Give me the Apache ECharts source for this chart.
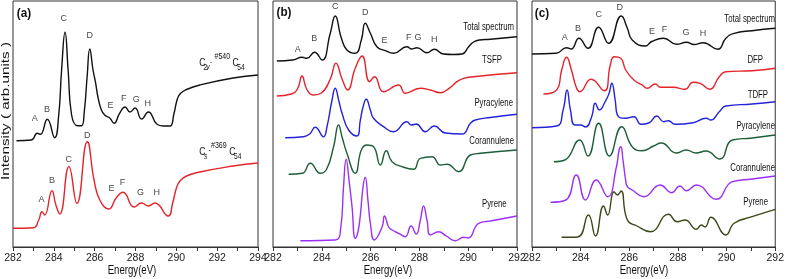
<!DOCTYPE html>
<html>
<head>
<meta charset="utf-8">
<script src="https://cdn.jsdelivr.net/npm/echarts@6/dist/echarts.min.js"></script>
<style>
html, body { margin: 0; padding: 0; background: #fff; }
#chart { width: 787px; height: 279px; }
</style>
</head>
<body>
<div id="chart"></div>
<script>
// energies in eV, intensity in arbitrary units (curves are stacked with offsets)
// panel (a)
var aC2v = [[282.17,106.3],[282.9,107],[283.19,113.7],[283.34,112.7],[283.68,127.7],[284.04,109.3],[284.24,132],[284.38,177],[284.55,214.7],[284.7,177],[284.87,132],[285.17,121.3],[285.36,121.3],[285.49,135],[285.63,170],[285.76,198],[285.92,177],[286.05,163.7],[286.16,150],[286.33,137],[286.49,132],[286.74,129],[286.95,123.7],[287.22,133.7],[287.49,140],[287.73,135],[287.98,139],[288.3,128],[288.63,135],[289.04,123],[289.36,121],[289.69,121],[289.88,133],[290.05,148],[290.2,153.5],[290.5,157.5],[291.15,162],[292.78,169],[294,172]]
var aCs = [[282,18.7],[283.0,19.3],[283.26,27],[283.42,35.3],[283.55,32],[283.91,56.3],[284.1,42],[284.29,33],[284.74,80.3],[285.13,43.7],[285.64,105.3],[285.97,67],[286.25,47],[286.69,38],[287.06,49.3],[287.39,54.7],[287.93,40],[288.3,44],[288.63,41],[288.95,44],[289.6,31],[289.82,44],[290.02,60],[290.2,66.5],[290.5,71],[291.15,75],[292.78,81],[294,84]]
// panel (b)
var bTotal = [[282.16,186],[282.8,187],[283.19,189.7],[283.39,188.7],[283.7,194.7],[284.01,187],[284.35,214],[284.55,231],[284.8,209],[285.03,197],[285.37,193.7],[285.62,207],[285.78,223.7],[285.99,213.7],[286.26,200.3],[286.6,196.3],[286.94,193.7],[287.49,200.3],[287.67,198],[287.9,199.3],[288.31,194.3],[288.61,197.7],[288.98,193],[289.4,192.5],[289.75,193],[290.02,200.3],[290.22,205],[290.45,207],[290.91,207.7],[292,210.3]]
var bTSFP = [[282.16,151],[282.75,153],[283.0,158],[283.19,171],[283.38,158],[283.66,152],[283.98,154],[284.35,168],[284.58,183.7],[284.83,168],[285.06,157],[285.37,178.7],[285.65,191],[285.96,165.3],[286.16,170.3],[286.53,155.3],[287.15,162],[287.42,153.7],[288.04,158.7],[288.45,157],[288.86,154.3],[289.27,159.7],[289.54,165.3],[289.81,168.7],[290.22,170.3],[292,174.3]]
var bPyra = [[282.5,109.3],[283.24,110.3],[283.5,113],[283.73,119.7],[284.07,110.3],[284.21,120],[284.42,147],[284.55,158.7],[284.69,147],[284.83,133.7],[285.1,117],[285.44,111],[285.58,127],[285.69,140],[285.82,147.7],[285.99,137],[286.12,128.7],[286.53,120.3],[286.94,115.3],[287.49,125.3],[287.67,122],[287.87,123],[288.24,115.3],[288.61,121],[289.06,114],[289.75,113],[290.09,123.7],[290.29,127],[290.91,129.5],[292,132.7]]
var bCoran = [[282.64,72.7],[283.2,73.7],[283.53,83.7],[283.94,73.7],[284.2,78],[284.48,100],[284.69,122],[284.83,110],[285.03,93.7],[285.37,73.7],[285.62,97],[285.85,102],[286.12,100.3],[286.4,82],[286.64,96.3],[286.88,85.3],[287.29,80.3],[287.76,77.7],[288.04,88.7],[288.52,90.3],[288.86,82],[289.13,82.7],[289.61,75.3],[290.09,92],[290.5,93.7],[292,97]]
var bPyrene = [[283.12,6.3],[284.55,7],[284.78,20],[284.89,60],[285.0,87.7],[285.12,66],[285.24,40],[285.37,8.7],[285.48,15],[285.58,32],[285.69,60],[285.78,69.7],[285.89,47],[286.0,22],[286.15,7],[286.47,20],[286.57,31],[286.74,20],[286.88,17],[287.15,13.7],[287.42,10.3],[287.66,21],[287.87,13],[288.04,27],[288.17,41],[288.31,27],[288.45,12],[288.79,15.3],[289.1,11],[289.47,6.3],[289.81,9.7],[290.0,9],[290.43,23.7],[290.91,26],[292,31]]
// panel (c)
var cTotal = [[282,193],[282.99,193.7],[283.42,199.3],[283.61,198],[283.93,208.7],[284.3,198.7],[284.74,219.7],[285.15,203.7],[285.67,231],[285.92,218.7],[286.12,207],[286.66,201],[286.92,205.5],[287.41,208.7],[287.94,202.7],[288.35,204.7],[288.66,202.5],[289.03,204.3],[289.64,197.7],[289.97,208.7],[290.31,213.7],[291.05,216.3],[292,218.7]]
var cDFP = [[282.47,153],[283.01,157],[283.22,177],[283.42,189.7],[283.62,177],[283.82,159.7],[283.96,155.3],[284.43,167.7],[284.97,156.3],[285.22,182],[285.38,190.3],[285.65,188.7],[285.85,177],[286.19,167],[286.53,162],[286.73,158.7],[287.07,163],[287.28,159.7],[287.81,159.7],[288.29,157.7],[288.62,164.7],[288.91,163.7],[289.3,157.7],[289.7,170.3],[289.97,175.3],[291.05,176.3],[292,178.7]]
var cTDFP = [[282,119.3],[283.01,121],[283.28,137],[283.44,157],[283.58,137],[283.76,122],[284.0,122],[284.2,120],[284.45,130],[284.6,143.7],[284.77,137],[285.01,145.3],[285.17,153.7],[285.28,163.7],[285.42,147],[285.51,132],[285.85,128.7],[286.19,130.3],[286.48,122.7],[286.8,124],[287.13,131],[287.41,125.3],[287.61,126.3],[287.88,122.7],[288.62,124.3],[289.16,128.7],[289.35,127],[289.7,135.3],[289.97,141],[291.05,143],[292,145.3]]
var cPyra = [[282.9,85.3],[283.35,87],[283.96,107],[284.3,91],[284.74,123.7],[285.18,91],[285.69,120.3],[286.12,100.3],[286.53,96.3],[287.0,101],[287.32,104],[287.93,94],[288.34,97],[288.74,94],[289.15,96],[289.72,88],[290.24,107],[291.05,109],[292,112]]
var cCoran = [[282.77,44.7],[283.39,47],[283.82,72],[284.2,47],[284.64,67],[285.11,50.3],[285.47,80],[285.58,97],[285.65,100.3],[285.74,87],[285.85,67],[285.92,60.3],[286.12,57],[286.59,50.3],[287.27,62],[287.74,54.3],[288.08,61],[288.35,56.3],[288.76,62],[289.57,47.7],[290.24,65.3],[291.05,68],[292,71]]
var cPyrene = [[283.22,9.7],[283.88,10],[284.32,32],[284.61,11],[284.94,41],[285.11,32],[285.37,55.3],[285.51,52],[285.66,56],[285.92,27],[286.32,21],[286.87,15.3],[287.61,32.7],[287.97,25.3],[288.29,27],[288.76,17.7],[288.96,22],[289.11,20],[289.36,29.7],[289.97,12],[290.31,23.7],[291.05,30.3],[292,37.7]]

// peak letters [letter, energy, intensity]
var aTopPeaks = [['A',283.06,128.7],['B',283.67,137],['C',284.48,228],['D',285.76,211.3],['E',286.78,141],['F',287.42,148],['G',288.04,147],['H',288.6,143]]
var aBotPeaks = [['A',283.39,47],['B',283.91,66.3],['C',284.73,87.7],['D',285.64,111],['E',286.82,58.7],['F',287.36,64.3],['G',288.25,54],['H',289.04,54]]
var bPeaks = [['A',283.01,197],['B',283.69,208.7],['C',284.55,240.3],['D',285.78,234.7],['E',286.57,206],['F',287.56,209.7],['G',287.94,209.7],['H',288.61,207]]
var cPeaks = [['A',283.35,209.7],['B',283.89,218],['C',284.74,232],['D',285.61,239.7],['E',286.93,215.3],['F',287.45,217],['G',288.33,214.3],['H',289.03,213.7]]

var xRanges = [[282, 294], [282, 292], [282, 292]]

var FONT = '"Liberation Sans", Arial, sans-serif'
var myChart = echarts.init(document.getElementById('chart'))

function axisX(i) {
  return {
    type: 'value', gridIndex: i, min: xRanges[i][0], max: xRanges[i][1], interval: 1,
    axisLine: { lineStyle: { color: '#333', width: 1 } },
    axisTick: { length: 4, lineStyle: { color: '#333' } },
    splitLine: { show: false },
    axisLabel: {
      fontSize: 10.5, fontFamily: FONT, color: '#222', margin: 6,
      formatter: function (v) { return v % 2 === 0 ? String(v) : '' }
    }
  }
}
function axisY(i) {
  return { type: 'value', gridIndex: i, min: 0, max: 246, show: false }
}
function curve(data, color, i) {
  return {
    type: 'line', xAxisIndex: i, yAxisIndex: i, data: data, showSymbol: false,
    smooth: 0.5, silent: true,
    lineStyle: { color: color, width: 1.4 }
  }
}
function peaks(list, i) {
  return {
    type: 'scatter', xAxisIndex: i, yAxisIndex: i, symbolSize: 1, silent: true,
    itemStyle: { color: 'transparent' },
    label: { show: true, position: 'inside', formatter: '{b}', fontSize: 9, fontFamily: FONT, color: '#111' },
    data: list.map(function (p) { return { name: p[0], value: [p[1], p[2]] } })
  }
}
// text squeezed horizontally like the original figure
function txt(s, x, y, size, align, opts) {
  opts = opts || {}
  return {
    type: 'text', x: x, y: y, silent: true,
    rotation: opts.rotation || 0,
    scaleX: opts.scaleX || 0.78,
    style: {
      text: s, fill: '#111',
      font: (opts.weight || '') + ' ' + size + 'px ' + FONT,
      align: align, textAlign: align, verticalAlign: 'middle', textVerticalAlign: 'middle'
    }
  }
}

var graphics = [
  txt('(a)', 24, 13, 13, 'center', { weight: 'bold', scaleX: 0.9 }),
  txt('(b)', 284, 12, 13, 'center', { weight: 'bold', scaleX: 0.9 }),
  txt('(c)', 542, 13, 13, 'center', { weight: 'bold', scaleX: 0.9 }),
  txt('Energy(eV)', 132, 270, 13, 'center', { scaleX: 0.74 }),
  txt('Energy(eV)', 388, 270, 13, 'center', { scaleX: 0.74 }),
  txt('Energy(eV)', 644, 270, 13, 'center', { scaleX: 0.74 }),
  txt('Intensity ( arb.units )', 6, 111, 10.5, 'center', { rotation: Math.PI / 2, scaleX: 1.45 }),
  // formula labels in panel (a)
  txt('C', 199.3, 63, 11, 'left'),
  txt('2', 203.5, 67.5, 8.5, 'left'),
  txt('v', 206.3, 67.5, 8.5, 'left', { weight: 'italic' }),
  txt('-', 210, 62.5, 8.5, 'left'),
  txt('#540', 214.5, 56.5, 9, 'left'),
  txt('C', 232.5, 63, 11, 'left'),
  txt('54', 237.3, 68, 8.5, 'left'),
  txt('C', 199.3, 152.3, 11, 'left'),
  txt('s', 204, 156.5, 8.5, 'left', { weight: 'italic' }),
  txt('-', 208.5, 151, 8.5, 'left'),
  txt('#369', 211, 145.7, 9, 'left'),
  txt('C', 229.3, 152.3, 11, 'left'),
  txt('54', 234, 156.5, 8.5, 'left'),
  // series names
  txt('Total spectrum', 514, 27.3, 10, 'right'),
  txt('TSFP', 502, 60.7, 10, 'right'),
  txt('Pyracylene', 513, 103.3, 10, 'right'),
  txt('Corannulene', 514, 141.7, 10, 'right'),
  txt('Pyrene', 506.7, 204, 10, 'right'),
  txt('Total spectrum', 775, 19, 10, 'right'),
  txt('DFP', 763, 60, 10, 'right'),
  txt('TDFP', 768, 95, 10, 'right'),
  txt('Pyracylene', 775, 126, 10, 'right'),
  txt('Corannulene', 775, 168.3, 10, 'right'),
  txt('Pyrene', 768, 202.7, 10, 'right')
]

var option = {
  backgroundColor: '#fff',
  animation: false,
  grid: [
    { left: 13, top: 1, width: 245, height: 246, show: true, borderColor: '#333', borderWidth: 1 },
    { left: 273, top: 1, width: 244, height: 246, show: true, borderColor: '#333', borderWidth: 1 },
    { left: 532, top: 1, width: 246, height: 246, show: true, borderColor: '#333', borderWidth: 1 }
  ],
  xAxis: [axisX(0), axisX(1), axisX(2)],
  yAxis: [axisY(0), axisY(1), axisY(2)],
  graphic: graphics,
  series: [
    curve(aC2v, '#111111', 0),
    curve(aCs, '#e3242b', 0),
    curve(bTotal, '#111111', 1),
    curve(bTSFP, '#e3242b', 1),
    curve(bPyra, '#2323d9', 1),
    curve(bCoran, '#1d5e3b', 1),
    curve(bPyrene, '#9b30f5', 1),
    curve(cTotal, '#111111', 2),
    curve(cDFP, '#e3242b', 2),
    curve(cTDFP, '#2323d9', 2),
    curve(cPyra, '#1d5e3b', 2),
    curve(cCoran, '#9b30f5', 2),
    curve(cPyrene, '#3a4716', 2),
    peaks(aTopPeaks, 0),
    peaks(aBotPeaks, 0),
    peaks(bPeaks, 1),
    peaks(cPeaks, 2)
  ]
}
myChart.setOption(option)
</script>
</body>
</html>
